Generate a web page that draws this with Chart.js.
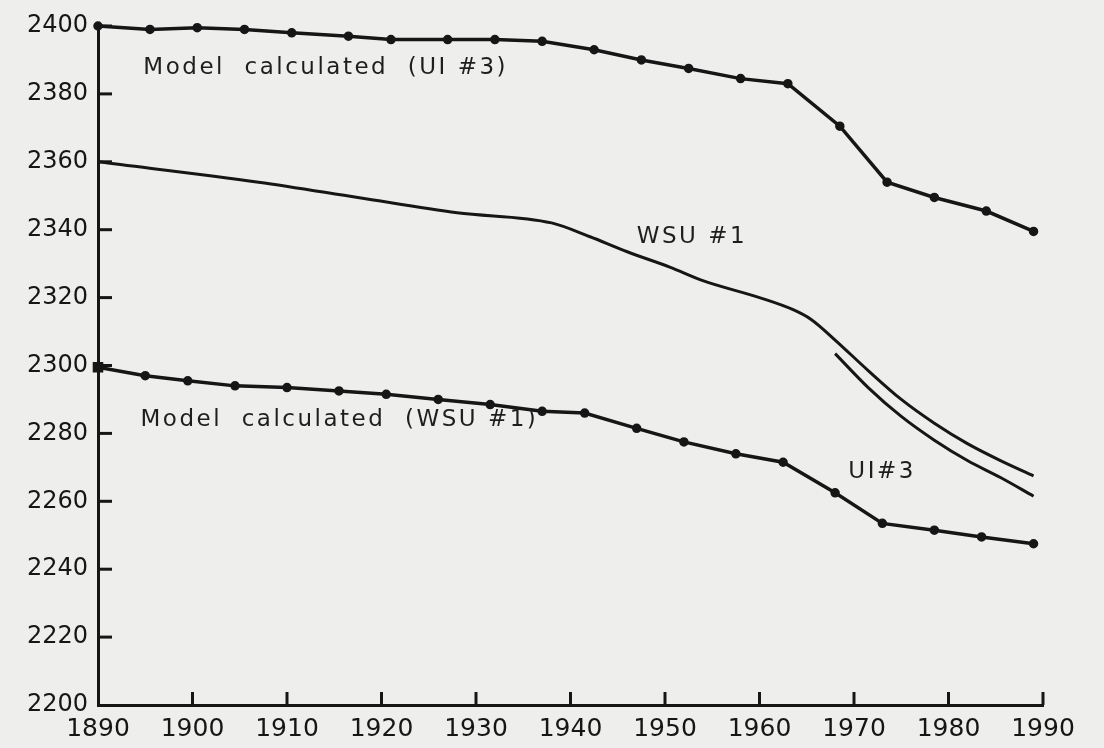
<!DOCTYPE html>
<html>
<head>
<meta charset="utf-8">
<script src="https://cdn.jsdelivr.net/npm/chart.js@4"></script>
<style>
  html, body { margin: 0; padding: 0; background: #eeefed; }
  canvas { display: block; }
</style>
</head>
<body>
<canvas id="myChart" width="1104" height="748"></canvas>
<script>
// values (year, elevation)
const modelUIYears = [1890, 1895.5, 1900.5, 1905.5, 1910.5, 1916.5, 1921, 1927, 1932, 1937, 1942.5, 1947.5, 1952.5, 1958, 1963, 1968.5, 1973.5, 1978.5, 1984, 1989];
const modelUIValues = [2400, 2399, 2399.5, 2399, 2398, 2397, 2396, 2396, 2396, 2395.5, 2393, 2390, 2387.5, 2384.5, 2383, 2370.5, 2354, 2349.5, 2345.5, 2339.5];

const modelWSUYears = [1890, 1895, 1899.5, 1904.5, 1910, 1915.5, 1920.5, 1926, 1931.5, 1937, 1941.5, 1947, 1952, 1957.5, 1962.5, 1968, 1973, 1978.5, 1983.5, 1989];
const modelWSUValues = [2299.5, 2297, 2295.5, 2294, 2293.5, 2292.5, 2291.5, 2290, 2288.5, 2286.5, 2286, 2281.5, 2277.5, 2274, 2271.5, 2262.5, 2253.5, 2251.5, 2249.5, 2247.5];

const wsuYears = [1890, 1907, 1917.5, 1928, 1938, 1942, 1946, 1950.5, 1954, 1960, 1963.5, 1965.5, 1968, 1971.5, 1975, 1978.5, 1982, 1985.5, 1989];
const wsuValues = [2360, 2354, 2349.5, 2345, 2342, 2338, 2333.5, 2329, 2325, 2320, 2316.5, 2313.5, 2307.5, 2298.5, 2290, 2283, 2277, 2272, 2267.5];

const uiYears = [1968, 1971.5, 1975, 1978.5, 1982, 1985.5, 1989];
const uiValues = [2303.5, 2293.5, 2285, 2278, 2272, 2267, 2261.5];

const xMin = 1890, xMax = 1990, xStep = 10;
const yMin = 2200, yMax = 2400, yStep = 20;

// curve labels, placed in data units
const curveLabels = [
    { text: "Model  calculated  (UI #3)", year: 1894.8, value: 2387.6 },
    { text: "WSU #1", year: 1947, value: 2337.8 },
    { text: "Model  calculated  (WSU #1)", year: 1894.5, value: 2284 },
    { text: "UI#3", year: 1969.4, value: 2268.6 }
];

const ink = "#161616";
const font = "'DejaVu Sans', sans-serif";

function toPoints(xs, ys) {
    let pts = [];
    for (let i = 0; i < xs.length; i++) {
        pts.push({ x: xs[i], y: ys[i] });
    }
    return pts;
}

// tick marks drawn inward from the axes
const innerTicks = {
    id: "innerTicks",
    afterDatasetsDraw(chart) {
        const { ctx, chartArea, scales: { x, y } } = chart;
        ctx.save();
        ctx.strokeStyle = ink;
        ctx.lineWidth = 3;
        y.ticks.forEach(t => {
            if (t.value === yMin) return;
            const py = y.getPixelForValue(t.value);
            ctx.beginPath();
            ctx.moveTo(chartArea.left, py);
            ctx.lineTo(chartArea.left + 14, py);
            ctx.stroke();
        });
        x.ticks.forEach(t => {
            if (t.value === xMin) return;
            const px = x.getPixelForValue(t.value);
            ctx.beginPath();
            ctx.moveTo(px, chartArea.bottom);
            ctx.lineTo(px, chartArea.bottom - 13);
            ctx.stroke();
        });
        ctx.restore();
    }
};

const textLabels = {
    id: "textLabels",
    afterDatasetsDraw(chart) {
        const { ctx, scales: { x, y } } = chart;
        ctx.save();
        ctx.fillStyle = "#1e1e1e";
        ctx.font = "23px " + font;
        ctx.letterSpacing = "2.5px";
        ctx.textAlign = "left";
        ctx.textBaseline = "middle";
        curveLabels.forEach(l => {
            ctx.fillText(l.text, x.getPixelForValue(l.year), y.getPixelForValue(l.value));
        });
        ctx.restore();
    }
};

const lineBase = {
    borderColor: ink,
    backgroundColor: ink,
    fill: false,
    clip: false
};

new Chart(document.getElementById("myChart"), {
    type: "line",
    data: {
        datasets: [
            Object.assign({}, lineBase, {
                label: "Model calculated (UI #3)",
                data: toPoints(modelUIYears, modelUIValues),
                borderWidth: 3.5,
                pointRadius: 3,
                tension: 0
            }),
            Object.assign({}, lineBase, {
                label: "Model calculated (WSU #1)",
                data: toPoints(modelWSUYears, modelWSUValues),
                borderWidth: 3.5,
                pointRadius: ctx => ctx.dataIndex === 0 ? 5 : 3,
                pointStyle: ctx => ctx.dataIndex === 0 ? "rect" : "circle",
                tension: 0
            }),
            Object.assign({}, lineBase, {
                label: "WSU #1",
                data: toPoints(wsuYears, wsuValues),
                borderWidth: 3,
                pointRadius: 0,
                cubicInterpolationMode: "monotone"
            }),
            Object.assign({}, lineBase, {
                label: "UI#3",
                data: toPoints(uiYears, uiValues),
                borderWidth: 3,
                pointRadius: 0,
                cubicInterpolationMode: "monotone"
            })
        ]
    },
    options: {
        responsive: false,
        animation: false,
        devicePixelRatio: 1,
        layout: {
            padding: { top: 26, right: 61, left: 0, bottom: 0 }
        },
        plugins: {
            legend: { display: false },
            tooltip: { enabled: false }
        },
        scales: {
            x: {
                type: "linear",
                min: xMin,
                max: xMax,
                grid: { display: false, drawTicks: false },
                border: { display: true, color: ink, width: 3 },
                ticks: {
                    stepSize: xStep,
                    color: ink,
                    padding: 9,
                    maxRotation: 0,
                    font: { family: font, size: 25 },
                    callback: v => String(v)
                },
                afterFit: s => { s.height = 43; }
            },
            y: {
                type: "linear",
                min: yMin,
                max: yMax,
                grid: { display: false, drawTicks: false },
                border: { display: true, color: ink, width: 3 },
                ticks: {
                    stepSize: yStep,
                    color: ink,
                    padding: 10,
                    font: { family: font, size: 24 },
                    callback: v => String(v)
                },
                afterFit: s => { s.width = 98; }
            }
        }
    },
    plugins: [innerTicks, textLabels]
});
</script>
</body>
</html>
